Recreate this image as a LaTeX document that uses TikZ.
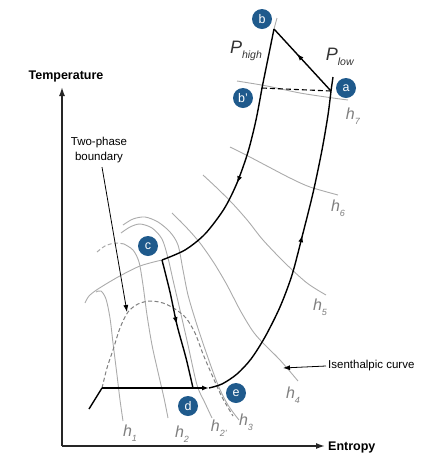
\documentclass[tikz,border=0pt]{standalone}
\usepackage{fontspec}
\setmainfont{Liberation Sans}
\usetikzlibrary{arrows.meta,decorations.markings}
\definecolor{circ}{HTML}{1F5A8C}
\definecolor{hgray}{HTML}{ABABAB}
\definecolor{lgray}{HTML}{7F7F7F}
\definecolor{dgray}{HTML}{333333}
\newcommand\hsub[2]{\textit{#1}\raisebox{-0.55ex}{\fontsize{9}{9}\selectfont\textit{#2}}}
\newcommand\Psub[2]{\textit{#1}\raisebox{-0.5ex}{\fontsize{10.5}{10.5}\selectfont\textit{#2}}}
\begin{document}
\begin{tikzpicture}[x=1pt,y=-1pt,
  ptlabel/.style={circle,fill=circ,text=white,minimum size=20pt,inner sep=0pt,font=\fontsize{12.5}{12.5}\selectfont},
  hline/.style={draw=hgray,line width=0.9pt},
  domeline/.style={draw=lgray,line width=1pt,dash pattern=on 4pt off 2.5pt},
  proc/.style={draw=black,line width=1.4pt},
  axisline/.style={draw=black!85,line width=1.5pt},
  hlab/.style={text=lgray,inner sep=0pt,font=\fontsize{16}{16}\selectfont},
  plab/.style={text=dgray,inner sep=0pt,font=\fontsize{18}{18}\selectfont},
  txt/.style={inner sep=0pt,font=\fontsize{11.5}{15}\selectfont},
  boldtxt/.style={inner sep=0pt,font=\fontsize{12.5}{14}\selectfont\bfseries},
  midarrow/.style={postaction={decorate},decoration={markings,mark=at position #1 with {\arrow{Latex[length=7pt,width=5pt]}}}},
]
\useasboundingbox (0,0) rectangle (434,459);

% axes
\coordinate (O) at (62,446);
\coordinate (Ytip) at (62,87);
\coordinate (Xtip) at (325,446);
\draw[axisline,-{Latex[length=9pt,width=6pt]}] (O) -- (Ytip);
\draw[axisline,-{Latex[length=9pt,width=6pt]}] (O) -- (Xtip);
\node[boldtxt] (tlab) at (66,76) {Temperature};
\node[boldtxt,anchor=west] (elab) at (328,447) {Entropy};

% isenthalpic (gray) curves
\draw[hline] plot[smooth] coordinates {(237,81) (267,86) (300,93) (333,98) (348,100)};
\draw[hline] plot[smooth] coordinates {(230,147) (248,156) (267,166) (290,178) (310,187) (338,195)};
\draw[hline] plot[smooth] coordinates {(203,175) (218,189) (233,204) (248,221) (263,240) (285,263) (307,283) (326,295)};
\draw[hline] plot[smooth] coordinates {(172,213) (186,227) (200,243) (214,263) (227,285) (240,310) (252,330) (262,342) (280,360) (298,381)};
\draw[hline] plot[smooth] coordinates {(123,225) (133,219) (145,217) (158,222) (170,232) (178,245) (183,270) (188,295) (196,322) (206,352) (218,385) (228,405) (239,420)};
\draw[hline] plot[smooth] coordinates {(121,233) (130,227) (140,224) (152,228) (162,239) (168,258) (173,280) (180,310) (188,345) (197,385) (205,403) (212,418)};
\draw[hline] plot[smooth] coordinates {(124,244) (133,250) (139,262) (143,285) (147,315) (152,345) (158,372) (164,398) (168,418)};
\draw[domeline,draw=hgray] plot[smooth] coordinates {(97,252) (105,246) (115,243) (124,244)};
\draw[hline] plot[smooth] coordinates {(96,292) (101,291) (106,299) (110,318) (113,343) (117,375) (120,400) (123,421)};
% high-pressure isobar continuation (gray)
\coordinate (C) at (162,260);
\draw[hline] plot[smooth] coordinates {(C) (140,266) (118,277) (98,289) (89,296) (85,303)};

% two-phase dome
\draw[domeline] plot[smooth] coordinates {(102,388) (107,368) (113,350) (120,328) (128,312) (138,304) (150,301) (163,303) (175,309) (186,318) (195,333) (203,354) (212,375) (222,397) (233,416)};

% process path
\coordinate (B) at (274,29);
\coordinate (Bp) at (262,88);
\coordinate (A) at (331,91);
\coordinate (D) at (193,388);
\coordinate (L) at (102,388);
\coordinate (Lend) at (89,409);
\coordinate (Dr) at (209,388);
\coordinate (Atop) at (333,77);
\coordinate (Btop) at (277,18);

\draw[hline] (B) -- (Btop);
\draw[proc] (A) -- (Atop);
\draw[proc] (B) -- (Bp);
\draw[proc,dash pattern=on 5pt off 3pt,line width=1.1pt] (Bp) -- (A);
\draw[proc,midarrow=0.47] plot[smooth] coordinates {(Bp) (256,120) (248,152) (237,183) (224,209) (205,234) (185,250) (C)};
\draw[proc,midarrow=0.5] plot[smooth] coordinates {(C) (170,292) (177,325) (186,358) (D)};
\draw[proc] (L) -- (Lend);
\draw[proc,-{Latex[length=7pt,width=5pt]}] (L) -- (Dr);
\draw[proc,midarrow=0.56] plot[smooth] coordinates {(Dr) (222,384) (237,374) (251,359) (265,337) (280,307) (292,275) (302,237) (313,193) (322,150) (328,115) (A)};
\draw[proc,midarrow=0.6] (A) -- (B);

% state labels
\node[ptlabel] (nb) at (262,19) {b};
\node[ptlabel] (na) at (346,88) {a};
\node[ptlabel] (nbp) at (243,98) {b'};
\node[ptlabel] (nc) at (148,246) {c};
\node[ptlabel] (nd) at (188,406) {d};
\node[ptlabel] (ne) at (236,393) {e};

% pressure labels
\node[plab] (phigh) at (246,51) {\Psub{P}{high}};
\node[plab] (plow) at (340,57) {\Psub{P}{low}};

% enthalpy labels
\node[hlab] (h1) at (130,433) {\hsub{h}{1}};
\node[hlab] (h2) at (182,434) {\hsub{h}{2}};
\node[hlab] (h2p) at (219,428) {\hsub{h}{2'}};
\node[hlab] (h3) at (246,422) {\hsub{h}{3}};
\node[hlab] (h4) at (293,395) {\hsub{h}{4}};
\node[hlab] (h5) at (320,307) {\hsub{h}{5}};
\node[hlab] (h6) at (338,208) {\hsub{h}{6}};
\node[hlab] (h7) at (353,116) {\hsub{h}{7}};

% annotations
\node[txt,align=center] (tpb) at (99,150) {Two-phase\\boundary};
\coordinate (tpbtip) at (127,312);
\draw[line width=0.8pt,-{Latex[length=7pt,width=5pt]}] (tpb.south) ++(3,4) -- (tpbtip);
\node[txt,anchor=west] (isen) at (328,366) {Isenthalpic curve};
\coordinate (isentip) at (283,368);
\draw[line width=0.8pt,-{Latex[length=7pt,width=5pt]}] (isen.west) ++(-2,0) -- (isentip);
\end{tikzpicture}
\end{document}
